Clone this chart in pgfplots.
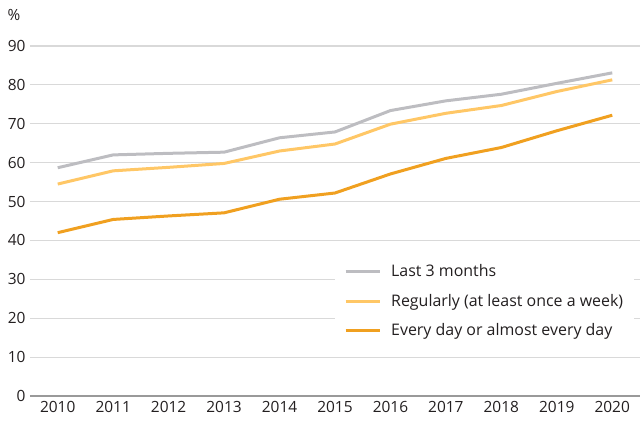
\documentclass[border=0pt]{standalone}
\usepackage{fontspec}
\setmainfont{Open Sans}
\usepackage{pgfplots}
\pgfplotsset{compat=1.18}
\definecolor{gline}{HTML}{BDBDC1}
\definecolor{lorange}{HTML}{FFC766}
\definecolor{dorange}{HTML}{F0A020}
\definecolor{gridc}{HTML}{D9D9D9}
\definecolor{txt}{HTML}{231F20}

\begin{document}
\begin{tikzpicture}
\begin{axis}[
    scale only axis,
    width=610bp, height=350bp,
    xmin=2009.5, xmax=2020.5,
    ymin=0, ymax=90,
    xtick={2010,...,2020},
    ytick={0,10,...,90},
    /pgf/number format/assume math mode=true,
    xticklabel style={/pgf/number format/1000 sep={}},
    tick label style={font=\fontsize{15.5}{18}\selectfont, text=txt},
    axis y line*=left,
    y axis line style={draw=none},
    axis x line*=bottom,
    x axis line style={draw=gray!80, line width=1.2pt, -},
    tick style={draw=none},
    ymajorgrids,
    grid style={gridc, line width=1.1pt},
    yticklabel style={xshift=-1bp},
    xticklabel style={yshift=-2bp},
    clip=false,
    legend cell align=left,
    legend style={at={(0.5,0.39)}, anchor=north west, draw=none, fill=white,
        font=\fontsize{16}{18}\selectfont, text=txt, row sep=12bp,
        inner xsep=9bp, inner ysep=3bp,
        /tikz/every even column/.append style={column sep=0bp}},
    legend image code/.code={\draw[#1] (0bp,0bp) -- (34bp,0bp);},
    every axis legend/.append style={/tikz/every odd column/.append style={column sep=8bp}},
    every axis plot/.append style={line width=3bp, line join=round},
]
\addplot[gline] coordinates {(2010,58.7) (2011,62.0) (2012,62.4) (2013,62.7) (2014,66.4) (2015,67.9) (2016,73.4) (2017,75.9) (2018,77.6) (2019,80.4) (2020,83.1)};
\addlegendentry{Last 3 months}
\addplot[lorange] coordinates {(2010,54.5) (2011,57.9) (2012,58.8) (2013,59.8) (2014,63.0) (2015,64.8) (2016,69.9) (2017,72.7) (2018,74.7) (2019,78.3) (2020,81.3)};
\addlegendentry{Regularly (at least once a week)}
\addplot[dorange] coordinates {(2010,42.0) (2011,45.4) (2012,46.3) (2013,47.1) (2014,50.6) (2015,52.2) (2016,57.1) (2017,61.1) (2018,63.9) (2019,68.2) (2020,72.2)};
\addlegendentry{Every day or almost every day}
\node[font=\fontsize{15.5}{18}\selectfont, text=txt] at ([xshift=-16bp, yshift=31bp]rel axis cs:0,1) {\%};
\end{axis}
\path[use as bounding box] (-30bp,-32bp) rectangle (613bp,396bp);
\end{tikzpicture}
\end{document}
